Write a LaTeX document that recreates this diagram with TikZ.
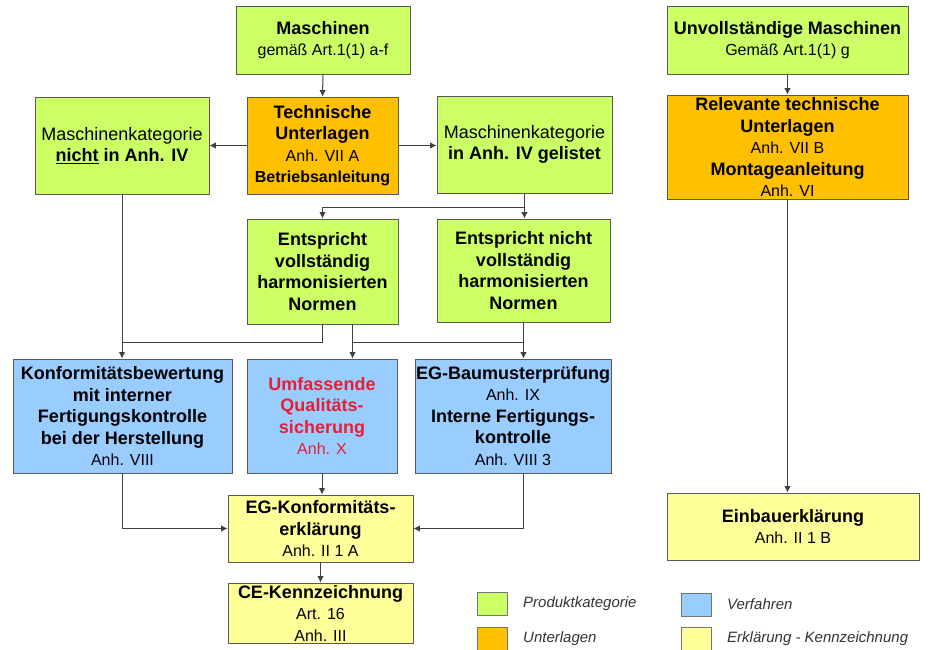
\documentclass[tikz,border=0pt]{standalone}
\usepackage{fontspec}
\setmainfont{Liberation Sans}
\usetikzlibrary{calc}
\usetikzlibrary{arrows.meta}

\definecolor{gruen}{RGB}{204,255,102}
\definecolor{orangeU}{RGB}{255,192,0}
\definecolor{blau}{RGB}{153,204,255}
\definecolor{gelb}{RGB}{255,255,153}
\definecolor{rot}{RGB}{228,32,52}

\begin{document}
\begin{tikzpicture}[x=1pt,y=-1pt,>={Latex[length=6.5pt,width=6.5pt]},
  kasten/.style={draw=black!65,line width=0.8pt,align=center,inner sep=0pt,
    font=\fontsize{18}{21.5}\selectfont\bfseries},
  produkt/.style={kasten,fill=gruen},
  unterlage/.style={kasten,fill=orangeU},
  verfahren/.style={kasten,fill=blau},
  erklaerung/.style={kasten,fill=gelb},
  pfeil/.style={->,draw=black!75,line width=1pt},
  linie/.style={draw=black!75,line width=1pt},
  legende/.style={font=\fontsize{15}{18}\selectfont\itshape,text=black!80,inner sep=0pt}]

\useasboundingbox (0,0) rectangle (930,650);

%Schriftgroesse der Nebenzeilen
\def \klein #1{{\fontsize{16}{19}\selectfont\mdseries #1}}

%%%%%%%%%%%%%%%%%%%%%%%%
%Maschinen (links)
%%%%%%%%%%%%%%%%%%%%%%%%
\node[produkt,minimum width=174,minimum height=68] (masch) at (323,40) {Maschinen\\ \klein{gemäß Art.1(1) a-f}};
\node[unterlage,minimum width=151,minimum height=97] (tech) at (322.5,145.5) {Technische\\Unterlagen\\ \klein{Anh. VII A}\\ {\fontsize{16}{19}\selectfont Betriebsanleitung}};
\node[produkt,minimum width=174,minimum height=97] (nicht) at (122,145.5) {{\mdseries Maschinenkategorie}\\ \underline{nicht} in Anh. IV};
\node[produkt,minimum width=175,minimum height=97] (gelistet) at (524.5,144.5) {{\mdseries Maschinenkategorie}\\in Anh. IV gelistet};
\node[produkt,minimum width=151,minimum height=105] (voll) at (322.5,271.5) {Entspricht\\vollständig\\harmonisierten\\Normen};
\node[produkt,minimum width=173,minimum height=103] (nichtvoll) at (523.5,270.5) {Entspricht nicht\\vollständig\\harmonisierten\\Normen};

%Verfahren
\node[verfahren,minimum width=219,minimum height=114] (konf) at (122.5,416) {Konformitätsbewertung\\mit interner\\Fertigungskontrolle\\bei der Herstellung\\ \klein{Anh. VIII}};
\node[verfahren,text=rot,minimum width=150,minimum height=114] (qs) at (322,416) {Umfassende\\Qualitäts-\\sicherung\\ \klein{Anh. X}};
\node[verfahren,minimum width=196,minimum height=114] (bau) at (513,416) {EG-Baumusterprüfung\\ \klein{Anh. IX}\\Interne Fertigungs-\\kontrolle\\ \klein{Anh. VIII 3}};

%Erklaerung - Kennzeichnung
\node[erklaerung,minimum width=185,minimum height=67] (ekl) at (320.5,528.5) {EG-Konformitäts-\\erklärung\\ \klein{Anh. II 1 A}};
\node[erklaerung,minimum width=185,minimum height=60] (ce) at (320.5,613) {CE-Kennzeichnung\\ \klein{Art. 16}\\ \klein{Anh. III}};

%%%%%%%%%%%%%%%%%%%%%%%%
%Unvollstaendige Maschinen (rechts)
%%%%%%%%%%%%%%%%%%%%%%%%
\node[produkt,minimum width=241,minimum height=68] (unv) at (787.5,40) {Unvollständige Maschinen\\ \klein{Gemäß Art.1(1) g}};
\node[unterlage,minimum width=241,minimum height=104] (relev) at (787.5,147) {Relevante technische\\Unterlagen\\ \klein{Anh. VII B}\\Montageanleitung\\ \klein{Anh. VI}};
\node[erklaerung,minimum width=252,minimum height=67] (einbau) at (793,526.5) {Einbauerklärung\\ \klein{Anh. II 1 B}};

%%%%%%%%%%%%%%%%%%%%%%%%
%Verbindungen
%%%%%%%%%%%%%%%%%%%%%%%%
\draw[pfeil] (masch.south) -- (tech.north);
\draw[pfeil] (tech.west) -- (nicht.east);
\draw[pfeil] (tech.east) -- (tech.east -| gelistet.west);

\coordinate (k1) at ($(gelistet.south)+(0,14)$);
\draw[pfeil] (gelistet.south) -- (gelistet.south |- nichtvoll.north);
\draw[pfeil] (k1) -| (voll.north);

\coordinate (k2) at (122,342);
\coordinate (k3) at ($(voll.south)+(30,0)$);
\draw[pfeil] (nicht.south) -- (nicht.south |- konf.north);
\draw[linie] (voll.south) |- (k2);
\draw[pfeil] (k3) -- (k3 |- qs.north);
\draw[pfeil] (nichtvoll.south) -- (nichtvoll.south |- bau.north);
\draw[linie] (k3 |- k2) -- (nichtvoll.south |- k2);

\draw[pfeil] (qs.south) -- (qs.south |- ekl.north);
\draw[pfeil] (konf.south) |- (ekl.west);
\draw[pfeil] (bau.south -| nichtvoll.south) |- (ekl.east);
\draw[pfeil] (ekl.south) -- (ce.north);

\draw[pfeil] (unv.south) -- (relev.north);
\draw[pfeil] (relev.south) -- (relev.south |- einbau.north);

%%%%%%%%%%%%%%%%%%%%%%%%
%Legende
%%%%%%%%%%%%%%%%%%%%%%%%
\foreach \farbe/\bez/\x/\y in {gruen/Produktkategorie/477/592, orangeU/Unterlagen/477/627, blau/Verfahren/681/593, gelb/Erklärung - Kennzeichnung/681/627}{
  \draw[draw=black!55,fill=\farbe] (\x,\y) rectangle ++(30,23);
  \node[legende,anchor=west] (leg-\farbe) at (\x+46,\y+11.5) {\bez};
}

\end{tikzpicture}
\end{document}
